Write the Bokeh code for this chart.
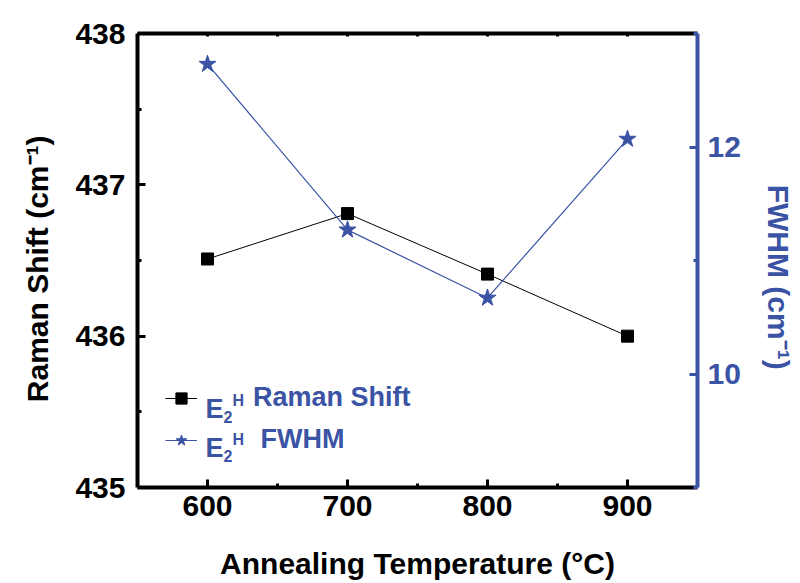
import math
from bokeh.plotting import figure
from bokeh.models import Range1d, LinearAxis, FixedTicker, Label, Legend, LegendItem
from bokeh.embed import file_html
from bokeh.resources import INLINE

# ---- data ----
temps = [600, 700, 800, 900]
raman_shift = [436.51, 436.81, 436.41, 436.0]
fwhm = [12.73, 11.27, 10.67, 12.07]

x_ticks = [600, 700, 800, 900]
x_minor = [650, 750, 850]
left_ticks = [435, 436, 437, 438]
left_minor = [435.5, 436.5, 437.5]
right_ticks = [10, 12]
right_minor = [9, 11, 13]

x_title = "Annealing Temperature (°C)"
left_title = "Raman Shift (cm⁻¹)"
right_title = "FWHM  (cm⁻¹)"
legend_names = ["Raman Shift", " FWHM"]

BLUE = "#3A53A4"
FONT = "Liberation Sans"
W, H = 800, 583
L, R, T, B = 137, 697, 33, 487
NB = "\u00a0"

p = figure(width=W, height=H, output_backend="svg", toolbar_location=None,
           x_range=Range1d(550, 950), y_range=Range1d(435, 438),
           min_border_left=L, min_border_right=W - R, min_border_top=T,
           min_border_bottom=H - B, x_axis_location=None, y_axis_location=None)
p.extra_y_ranges = {"fwhm": Range1d(9, 13)}
p.xgrid.visible = False
p.ygrid.visible = False
p.outline_line_color = None
p.background_fill_color = "white"
p.border_fill_color = "white"


def style_axis(ax, color, standoff, tin=8, min_in=4):
    ax.axis_line_color = color
    ax.axis_line_width = 4
    ax.major_tick_line_color = color
    ax.major_tick_line_width = 3
    ax.minor_tick_line_color = color
    ax.minor_tick_line_width = 3
    ax.major_tick_in = tin
    ax.major_tick_out = 0
    ax.minor_tick_in = min_in
    ax.minor_tick_out = 0
    ax.major_label_standoff = standoff
    ax.major_label_text_font = FONT
    ax.major_label_text_font_style = "bold"
    ax.major_label_text_color = color
    ax.major_label_text_font_size = "30px"
    ax.axis_label_text_font = FONT
    ax.axis_label_text_font_style = "bold"
    ax.axis_label_text_font_size = "30px"
    ax.axis_label_text_color = color


bottom = LinearAxis(ticker=FixedTicker(ticks=x_ticks, minor_ticks=x_minor),
                    axis_label=x_title)
style_axis(bottom, "black", 8)
bottom.axis_label_standoff = 28
bottom.axis_label_text_line_height = 0.9
p.add_layout(bottom, "below")

# top border: tick marks only, no labels
top = LinearAxis(ticker=FixedTicker(ticks=[], minor_ticks=x_ticks + x_minor))
style_axis(top, "black", 0, tin=3, min_in=3)
p.add_layout(top, "above")

left = LinearAxis(ticker=FixedTicker(ticks=left_ticks, minor_ticks=left_minor),
                  axis_label=left_title + NB * 2)
style_axis(left, "black", 12)
left.axis_label_standoff = 18
p.add_layout(left, "left")

right = LinearAxis(y_range_name="fwhm",
                   ticker=FixedTicker(ticks=right_ticks, minor_ticks=right_minor),
                   axis_label=NB * 5 + right_title)
style_axis(right, BLUE, 10)
right.axis_label_standoff = 18
p.add_layout(right, "right")

# ---- series ----
l1 = p.line(temps, raman_shift, line_color="black", line_width=1)
s1 = p.scatter(temps, raman_shift, marker="square", size=12, fill_color="black",
               line_color="black")
l2 = p.line(temps, fwhm, line_color=BLUE, line_width=1.2, y_range_name="fwhm")
s2 = p.scatter(temps, fwhm, marker="star", size=18, fill_color=BLUE,
               line_color=BLUE, y_range_name="fwhm")

legend = Legend(items=[LegendItem(label=legend_names[0], renderers=[l1, s1]),
                       LegendItem(label=legend_names[1], renderers=[l2, s2])],
                location=(28, 32), glyph_width=32, glyph_height=28,
                label_height=28, spacing=11, padding=0, margin=0,
                border_line_color=None, background_fill_alpha=0,
                label_text_font=FONT, label_text_font_style="bold",
                label_text_font_size="27px", label_text_color=BLUE,
                label_standoff=56)
p.add_layout(legend)


def txt(s, cx, cy, size, color=BLUE):
    p.add_layout(Label(x=cx - L, y=B - cy, x_units="screen", y_units="screen",
                       text=s, text_font=FONT, text_font_style="bold",
                       text_font_size=f"{size}px", text_color=color,
                       text_align="left", text_baseline="alphabetic"))


# "E2H" prefix of the legend entries (subscript 2, superscript H)
for base in (408, 447):
    txt("E", 205, base, 27)
    txt("2", 223, base + 8, 16)
    txt("H", 232, base - 8, 16)

open("out.html", "w").write(file_html(p, INLINE))
